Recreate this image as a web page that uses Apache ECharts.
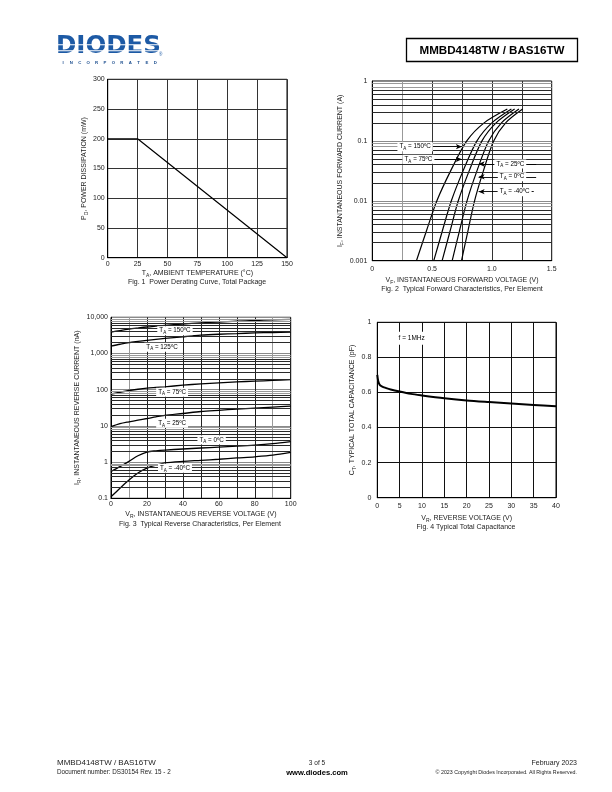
<!DOCTYPE html>
<html><head><meta charset="utf-8">
<script src="https://cdn.jsdelivr.net/npm/echarts@6/dist/echarts.min.js"></script>
<style>html,body{margin:0;padding:0;background:#fff}#c{width:612px;height:792px}</style>
</head><body><div id="c"></div>
<script>
// ---------- Fig 1 : power derating ----------
const fig1Temp = [0, 25, 150];
const fig1Power = [200, 200, 0];
const fig1XTicks = ['0','25','50','75','100','125','150'];
const fig1YTicks = ['0','50','100','150','200','250','300'];

// ---------- Fig 2 : forward characteristics ----------
const fig2Current = [0.001, 0.00316, 0.01, 0.0316, 0.1, 0.2, 0.34];   // A
const fig2V150 = [0.369, 0.453, 0.540, 0.655, 0.790, 0.935, 1.129];   // V
const fig2V75  = [0.514, 0.586, 0.661, 0.759, 0.875, 1.000, 1.163];
const fig2V25  = [0.584, 0.651, 0.719, 0.810, 0.917, 1.035, 1.190];
const fig2V0   = [0.668, 0.729, 0.792, 0.875, 0.973, 1.080, 1.226];
const fig2Vm40 = [0.746, 0.800, 0.855, 0.929, 1.015, 1.115, 1.257];
const fig2XTicks = ['0','0.5','1.0','1.5'];
const fig2YTicks = ['0.001','0.01','0.1','1'];
const fig2Labels = ['150','75','25','0','-40'];
const fig2LabelPos = [[0.358,0.080],[0.386,0.0493],[1.154,0.0411],[1.168,0.0252],[1.19,0.0142]];
const fig2ArrowTip = [[0.749,0.080],[0.749,0.0493],[0.889,0.0411],[0.889,0.0252],[0.889,0.0142]];
const fig2ArrowTail = [[0.43,0.080],[0.43,0.0493],[1.37,0.0411],[1.37,0.0252],[1.35,0.0142]];

// ---------- Fig 3 : reverse characteristics ----------
const fig3Voltage = [0,5,10,15,20,25,30,40,50,60,70,80,90,100];
const fig3I150 = [3900,4300,4700,5050,5400,5700,6000,6500,7000,7400,7800,8150,8500,8800];
const fig3I125 = [1600,1800,2000,2150,2300,2450,2600,2900,3200,3400,3550,3700,3800,3900];
const fig3I75  = [75,85,95,103,110,115,120,133,145,155,165,172,180,190];
const fig3I25  = [9.5,11.5,13,14.5,16,17.8,19.5,22,25,27,29,31,33,35];
const fig3I0   = [0.55,0.75,1.05,1.5,1.9,2.05,2.15,2.3,2.45,2.6,2.75,2.95,3.25,3.7];
const fig3Im40 = [0.11,0.19,0.32,0.5,0.68,0.82,0.95,1.05,1.12,1.2,1.3,1.4,1.55,1.85];
const fig3XTicks = ['0','20','40','60','80','100'];
const fig3YTicks = ['0.1','1','10','100','1,000','10,000'];
const fig3Labels = ['150','125','75','25','0','-40'];
const fig3LabelPos = [[35.6,4280],[28.4,1500],[34,85],[34,11.8],[56,4.1],[35.6,0.675]];

// ---------- Fig 4 : capacitance ----------
const fig4Voltage = [0,0.2,0.5,1,2,3,5,7.5,10,15,20,25,30,35,40];
const fig4Cap = [0.70,0.665,0.645,0.635,0.625,0.617,0.605,0.592,0.583,0.567,0.554,0.545,0.537,0.529,0.521];
const fig4XTicks = ['0','5','10','15','20','25','30','35','40'];
const fig4YTicks = ['0','0.2','0.4','0.6','0.8','1'];

const FONT = '"Liberation Sans", Arial, Helvetica, sans-serif';
const TXT = '#222';
const chart = echarts.init(document.getElementById('c'), null, {renderer:'canvas', width:612, height:792});

function linFmt(labels, min, step){
  return function(v){
    const k = (v - min) / step; const r = Math.round(k);
    if (Math.abs(k - r) > 1e-6) return '';
    return labels[r] !== undefined ? labels[r] : '';
  };
}
function logFmt(labels, minExp){
  return function(v){ const e = Math.round(Math.log10(v)); return labels[e - minExp] || ''; };
}
const richName = {
  t:{fontSize:7, color:TXT, fontFamily:FONT, lineHeight:10, verticalAlign:'middle'},
  s:{fontSize:5, color:TXT, fontFamily:FONT, lineHeight:10, verticalAlign:'bottom'}
};
const richLab = {
  t:{fontSize:6.3, color:'#000', fontFamily:FONT, lineHeight:9, verticalAlign:'middle'},
  s:{fontSize:4.5, color:'#000', fontFamily:FONT, lineHeight:9, verticalAlign:'bottom'}
};
function axisBase(extra){
  return Object.assign({
    axisLine:{show:true, lineStyle:{color:'#000', width:1}},
    axisTick:{show:false},
    nameLocation:'middle',
    nameTextStyle:{rich:richName, fontSize:7, color:TXT},
  }, extra);
}
function lbl(fmt, margin){
  return {fontSize:7, color:TXT, fontFamily:FONT, margin:margin, formatter:fmt, showMinLabel:true, showMaxLabel:true};
}

// minor log grid lines (2..9 x decade)
function minorLines(decades, xmin, xmax){
  const out = [];
  decades.forEach(d => {
    for (let m = 2; m <= 9; m++){
      const y = m * d;
      out.push([{coord:[xmin,y], lineStyle:{color: m >= 8 ? '#9a9a9a' : '#2a2a2a', width:1, type:'solid'}}, {coord:[xmax,y]}]);
    }
  });
  return out;
}

const series = [];
// Fig1
series.push({type:'line', xAxisIndex:0, yAxisIndex:0, data: fig1Temp.map((t,i)=>[t, fig1Power[i]]),
  showSymbol:false, lineStyle:{color:'#000', width:1.2}, z:3});

// Fig2 grid minor lines
series.push({type:'line', xAxisIndex:1, yAxisIndex:1, data:[], z:1, silent:true,
  markLine:{silent:true, symbol:['none','none'], label:{show:false}, animation:false,
    data: minorLines([0.001,0.01,0.1], 0, 1.5)}});
[fig2V150, fig2V75, fig2V25, fig2V0, fig2Vm40].forEach(arr => {
  series.push({type:'line', xAxisIndex:1, yAxisIndex:1, smooth:0.3, showSymbol:false, z:3,
    lineStyle:{color:'#000', width:1.2},
    data: arr.map((v,i)=>[v, fig2Current[i]])});
});
series.push({type:'line', xAxisIndex:1, yAxisIndex:1, data:[], z:5,
  markLine:{silent:true, symbol:['none','arrow'], symbolSize:[4,6], label:{show:false}, animation:false,
    lineStyle:{color:'#000', width:0.9, type:'solid'},
    data: fig2ArrowTail.map((t,i)=>[{coord:t},{coord:fig2ArrowTip[i]}])},
  markPoint:{silent:true, symbol:'rect', symbolSize:[1,1], itemStyle:{color:'rgba(0,0,0,0)'}, animation:false,
    data: fig2LabelPos.map((p,i)=>({coord:p, label:{show:true, position:'inside', backgroundColor:'#fff', padding:[0,2,0,2],
      formatter:'{t|T}{s|A}{t| = '+fig2Labels[i]+'ºC}', rich:richLab}}))}});

// Fig3
series.push({type:'line', xAxisIndex:2, yAxisIndex:2, data:[], z:1, silent:true,
  markLine:{silent:true, symbol:['none','none'], label:{show:false}, animation:false,
    data: minorLines([0.1,1,10,100,1000], 0, 100)}});
[fig3I150, fig3I125, fig3I75, fig3I25, fig3I0, fig3Im40].forEach(arr => {
  series.push({type:'line', xAxisIndex:2, yAxisIndex:2, smooth:0.3, showSymbol:false, z:3,
    lineStyle:{color:'#000', width:1.3},
    data: arr.map((v,i)=>[fig3Voltage[i], v])});
});
series.push({type:'line', xAxisIndex:2, yAxisIndex:2, data:[], z:6,
  markPoint:{silent:true, symbol:'rect', symbolSize:[1,1], itemStyle:{color:'rgba(0,0,0,0)'}, animation:false,
    data: fig3LabelPos.map((p,i)=>({coord:p, label:{show:true, position:'inside', backgroundColor:'#fff', padding:[0,2,0,2],
      formatter:'{t|T}{s|A}{t| = '+fig3Labels[i]+'ºC}', rich:richLab}}))}});

// Fig4
series.push({type:'line', xAxisIndex:3, yAxisIndex:3, smooth:0.3, showSymbol:false, z:3,
  lineStyle:{color:'#000', width:2},
  data: fig4Voltage.map((v,i)=>[v, fig4Cap[i]]),
  markPoint:{silent:true, symbol:'rect', symbolSize:[1,1], itemStyle:{color:'rgba(0,0,0,0)'}, animation:false,
    data:[{coord:[7.7,0.909], label:{show:true, position:'inside', backgroundColor:'#fff', padding:[3,5,3,5],
      formatter:'f = 1MHz', fontSize:6.5, color:'#000', fontFamily:FONT}}]}});

const fig3SplitColors = ['#222','#9a9a9a','#222','#222','#222','#222','#222','#222','#222','#9a9a9a','#222'];

// logo sub-line letters
const incLetters = 'INCORPORATED'.split('');
const logoGraphics = [
  {type:'text', left:56, top:34.5, style:{text:'DIODES', fontSize:24.5, fontWeight:'bold', fill:'#1d5aa5', fontFamily:'"DejaVu Sans", sans-serif'}},
  {type:'rect', shape:{x:55, y:44.2, width:108, height:1.1}, style:{fill:'#fff'}},
  {type:'rect', shape:{x:55, y:50.2, width:108, height:1.0}, style:{fill:'#fff'}},
  {type:'text', left:159, top:52, style:{text:'®', fontSize:4.5, fill:'#1d5aa5', fontFamily:FONT}}
].concat(incLetters.map((ch,i)=>({type:'text', x:63 + i*8.4, y:63.3,
  style:{text:ch, fontSize:4.3, fontWeight:'bold', fill:'#1d4f8f', fontFamily:FONT, align:'center', verticalAlign:'middle'}})));

const gridBase = {show:true, borderColor:'#000', borderWidth:1, backgroundColor:'rgba(0,0,0,0)'};
const option = {
  animation:false,
  textStyle:{fontFamily:FONT},
  grid:[
    Object.assign({left:107.7, top:79.3, width:179.3, height:178.4}, gridBase),
    Object.assign({left:372.3, top:81, width:179.4, height:179.7}, gridBase),
    Object.assign({left:111, top:317.3, width:179.7, height:181}, gridBase),
    Object.assign({left:377.3, top:322.3, width:178.7, height:175.4}, gridBase)
  ],
  xAxis:[
    axisBase({gridIndex:0, type:'value', min:0, max:150, interval:25,
      axisLabel:lbl(linFmt(fig1XTicks,0,25),3),
      splitLine:{show:true, lineStyle:{color:'#333', width:1}},
      name:'{t|T}{s|A}{t|, AMBIENT TEMPERATURE (°C)}', nameGap:10}),
    axisBase({gridIndex:1, type:'value', min:0, max:1.5, interval:0.25,
      axisLabel:lbl(linFmt(fig2XTicks,0,0.5),5),
      splitLine:{show:true, lineStyle:{color:['#333','#999','#333','#333','#333','#333','#333'], width:1}},
      name:'{t|V}{s|F}{t|, INSTANTANEOUS FORWARD VOLTAGE (V)}', nameGap:14}),
    axisBase({gridIndex:2, type:'value', min:0, max:100, interval:10,
      axisLabel:lbl(linFmt(fig3XTicks,0,20),2),
      splitLine:{show:true, lineStyle:{color:fig3SplitColors, width:1}},
      name:'{t|V}{s|R}{t|, INSTANTANEOUS REVERSE VOLTAGE (V)}', nameGap:11}),
    axisBase({gridIndex:3, type:'value', min:0, max:40, interval:5,
      axisLabel:lbl(linFmt(fig4XTicks,0,5),5),
      splitLine:{show:true, lineStyle:{color:'#111', width:1}},
      name:'{t|V}{s|R}{t|, REVERSE VOLTAGE (V)}', nameGap:15})
  ],
  yAxis:[
    axisBase({gridIndex:0, type:'value', min:0, max:300, interval:50,
      axisLabel:lbl(linFmt(fig1YTicks,0,50),3),
      splitLine:{show:true, lineStyle:{color:'#333', width:1}},
      name:'{t|P}{s|D}{t|, POWER DISSIPATION (mW)}', nameGap:18}),
    axisBase({gridIndex:1, type:'log', logBase:10, min:0.001, max:1,
      axisLabel:lbl(logFmt(fig2YTicks,-3),5),
      splitLine:{show:true, lineStyle:{color:'#8a8a8a', width:1}},
      name:'{t|I}{s|F}{t|, INSTANTANEOUS FORWARD CURRENT (A)}', nameGap:27}),
    axisBase({gridIndex:2, type:'log', logBase:10, min:0.1, max:10000,
      axisLabel:lbl(logFmt(fig3YTicks,-1),3),
      splitLine:{show:true, lineStyle:{color:'#8a8a8a', width:1}},
      name:'{t|I}{s|R}{t|, INSTANTANEOUS REVERSE CURRENT (nA)}', nameGap:29}),
    axisBase({gridIndex:3, type:'value', min:0, max:1, interval:0.2,
      axisLabel:lbl(linFmt(fig4YTicks,0,0.2),6),
      splitLine:{show:true, lineStyle:{color:'#111', width:1}},
      name:'{t|C}{s|T}{t|, TYPICAL TOTAL CAPACITANCE (pF)}', nameGap:20})
  ],
  series: series,
  graphic: logoGraphics.concat([
    // title box
    {type:'rect', shape:{x:406.5, y:38.5, width:171, height:23}, style:{fill:'#fff', stroke:'#000', lineWidth:1.3}},
    {type:'text', x:492, y:50.3, style:{text:'MMBD4148TW / BAS16TW', fontSize:11.6, fontWeight:'bold', fill:'#000', fontFamily:FONT, align:'center', verticalAlign:'middle'}},
    // captions
    {type:'text', x:197, y:282, style:{text:'Fig. 1  Power Derating Curve, Total Package', fontSize:7, fill:TXT, fontFamily:FONT, align:'center', verticalAlign:'middle'}},
    {type:'text', x:462, y:289.5, style:{text:'Fig. 2  Typical Forward Characteristics, Per Element', fontSize:7, fill:TXT, fontFamily:FONT, align:'center', verticalAlign:'middle'}},
    {type:'text', x:200, y:524.5, style:{text:'Fig. 3  Typical Reverse Characteristics, Per Element', fontSize:7, fill:TXT, fontFamily:FONT, align:'center', verticalAlign:'middle'}},
    {type:'text', x:466, y:527.5, style:{text:'Fig. 4 Typical Total Capacitance', fontSize:7, fill:TXT, fontFamily:FONT, align:'center', verticalAlign:'middle'}},
    // footer
    {type:'text', x:57, y:763, style:{text:'MMBD4148TW / BAS16TW', fontSize:8, fill:'#222', fontFamily:FONT, align:'left', verticalAlign:'middle'}},
    {type:'text', x:57, y:772.5, style:{text:'Document number: DS30154 Rev. 15 - 2', fontSize:6.3, fill:'#222', fontFamily:FONT, align:'left', verticalAlign:'middle'}},
    {type:'text', x:317, y:763, style:{text:'3 of 5', fontSize:6.5, fill:'#222', fontFamily:FONT, align:'center', verticalAlign:'middle'}},
    {type:'text', x:317, y:772.5, style:{text:'www.diodes.com', fontSize:7.6, fontWeight:'bold', fill:'#000', fontFamily:FONT, align:'center', verticalAlign:'middle'}},
    {type:'text', x:577, y:763, style:{text:'February 2023', fontSize:7, fill:'#222', fontFamily:FONT, align:'right', verticalAlign:'middle'}},
    {type:'text', x:577, y:772.5, style:{text:'© 2023 Copyright Diodes Incorporated. All Rights Reserved.', fontSize:5.3, fill:'#222', fontFamily:FONT, align:'right', verticalAlign:'middle'}}
  ])
};
chart.setOption(option);
</script>
</body></html>
